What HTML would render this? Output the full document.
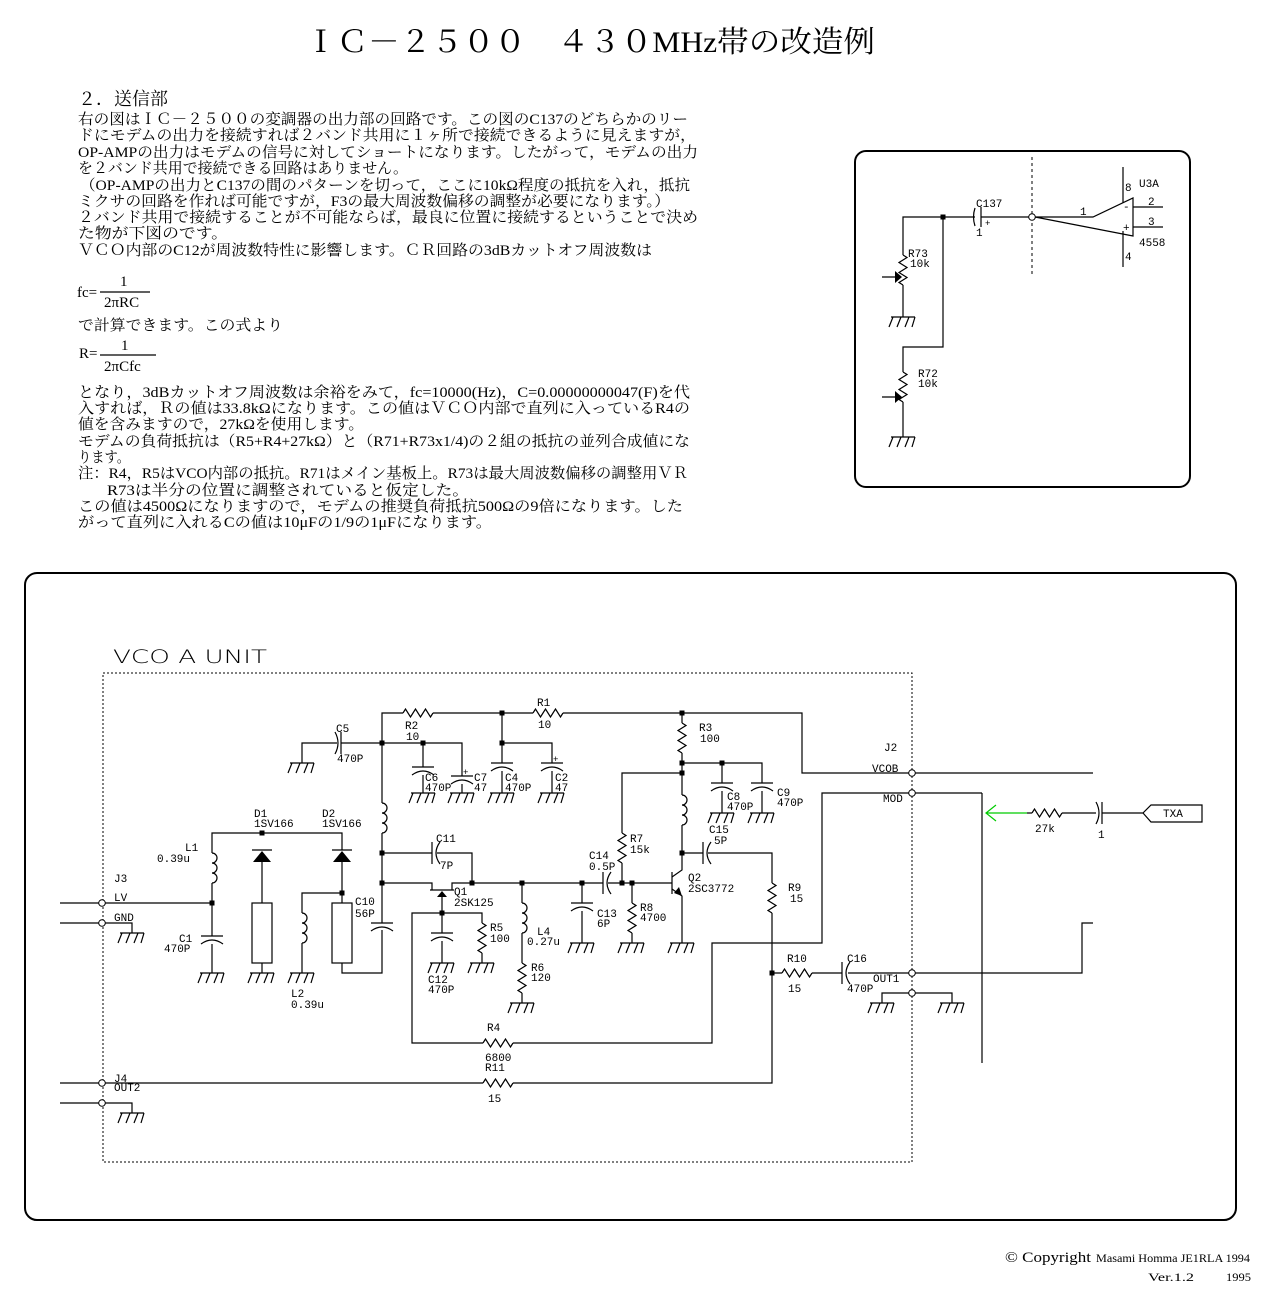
<!DOCTYPE html>
<html><head><meta charset="utf-8"><style>
html,body{margin:0;padding:0;background:#fff;width:1280px;height:1300px;overflow:hidden}
svg{display:block}
.j{font-family:"Liberation Serif","Noto Serif CJK SC","IPAGothic",serif;font-size:15px;fill:#000}
.m{font-family:"Liberation Mono","DejaVu Sans Mono",monospace;font-size:11px;fill:#000}
.w{fill:none;stroke:#000;stroke-width:1.2}
</style></head><body>
<svg width="1280" height="1300" viewBox="0 0 1280 1300" xmlns="http://www.w3.org/2000/svg">
<defs>
<g id="gnd" class="w"><path d="M-12 0H12M-10 0l-4 10M-2 0l-4 10M6 0l-4 10M12 0l-3 10"/></g>
<g id="rv" class="w"><path d="M0 0l4 2.5l-8 5l8 5l-8 5l8 5l-8 5l4 2.5"/></g>
<g id="rh" class="w"><path d="M0 0l2.5 -4l5 8l5 -8l5 8l5 -8l5 8l2.5 -4"/></g>
<g id="iv" class="w"><path d="M0 0a5 5 0 0 1 0 10a5 5 0 0 1 0 10a5 5 0 0 1 0 10"/></g>
<g id="cv" class="w"><path d="M-11 0H11M-11 8Q0 0 11 8"/></g>
<g id="ch" class="w"><path d="M0 -11V11M8 -11Q0 0 8 11"/></g>
<g id="chr" class="w"><path d="M6 -11V11M0 -11Q6 0 0 11"/></g>
</defs>

<text x="305" y="52" textLength="570" lengthAdjust="spacingAndGlyphs" style="font-family:'Liberation Serif','Noto Serif CJK SC',serif;font-size:30px">ＩＣ－２５００　４３０MHz帯の改造例</text>
<text x="78" y="105" class="j" style="font-size:18px">２．送信部</text>

<g class="j">
<text x="78" y="124" textLength="610" lengthAdjust="spacingAndGlyphs">右の図はＩＣ－２５００の変調器の出力部の回路です。この図のC137のどちらかのリー</text>
<text x="78" y="140" textLength="618" lengthAdjust="spacingAndGlyphs">ドにモデムの出力を接続すれば２バンド共用に１ヶ所で接続できるように見えますが，</text>
<text x="78" y="157" textLength="620" lengthAdjust="spacingAndGlyphs">OP-AMPの出力はモデムの信号に対してショートになります。したがって，モデムの出力</text>
<text x="78" y="173" textLength="330" lengthAdjust="spacingAndGlyphs">を２バンド共用で接続できる回路はありません。</text>
<text x="80" y="190" textLength="610" lengthAdjust="spacingAndGlyphs">（OP-AMPの出力とC137の間のパターンを切って，ここに10kΩ程度の抵抗を入れ，抵抗</text>
<text x="78" y="206" textLength="592" lengthAdjust="spacingAndGlyphs">ミクサの回路を作れば可能ですが，F3の最大周波数偏移の調整が必要になります。）</text>
<text x="78" y="222" textLength="620" lengthAdjust="spacingAndGlyphs">２バンド共用で接続することが不可能ならば，最良に位置に接続するということで決め</text>
<text x="78" y="238" textLength="150" lengthAdjust="spacingAndGlyphs">た物が下図のです。</text>
<text x="78" y="255" textLength="574" lengthAdjust="spacingAndGlyphs">ＶＣＯ内部のC12が周波数特性に影響します。ＣＲ回路の3dBカットオフ周波数は</text>
<text x="77" y="297">fc=</text><text x="120" y="286">1</text><path class="w" d="M100 292H150"/><text x="104" y="307">2πRC</text>
<text x="78" y="330" textLength="205" lengthAdjust="spacingAndGlyphs">で計算できます。この式より</text>
<text x="79" y="358">R=</text><text x="121" y="350">1</text><path class="w" d="M100 355H156"/><text x="104" y="371">2πCfc</text>
<text x="78" y="397" textLength="612" lengthAdjust="spacingAndGlyphs">となり，3dBカットオフ周波数は余裕をみて，fc=10000(Hz)，C=0.00000000047(F)を代</text>
<text x="78" y="413" textLength="612" lengthAdjust="spacingAndGlyphs">入すれば，Ｒの値は33.8kΩになります。この値はＶＣＯ内部で直列に入っているR4の</text>
<text x="78" y="429" textLength="286" lengthAdjust="spacingAndGlyphs">値を含みますので，27kΩを使用します。</text>
<text x="78" y="446" textLength="612" lengthAdjust="spacingAndGlyphs">モデムの負荷抵抗は（R5+R4+27kΩ）と（R71+R73x1/4)の２組の抵抗の並列合成値にな</text>
<text x="78" y="462" textLength="52" lengthAdjust="spacingAndGlyphs">ります。</text>
<text x="78" y="478" textLength="610" lengthAdjust="spacingAndGlyphs">注：R4，R5はVCO内部の抵抗。R71はメイン基板上。R73は最大周波数偏移の調整用ＶＲ</text>
<text x="107" y="495" textLength="362" lengthAdjust="spacingAndGlyphs">R73は半分の位置に調整されていると仮定した。</text>
<text x="78" y="511" textLength="605" lengthAdjust="spacingAndGlyphs">この値は4500Ωになりますので，モデムの推奨負荷抵抗500Ωの9倍になります。した</text>
<text x="78" y="527" textLength="414" lengthAdjust="spacingAndGlyphs">がって直列に入れるCの値は10μFの1/9の1μFになります。</text>
</g>

<rect x="855" y="151" width="335" height="336" rx="11" fill="none" stroke="#000" stroke-width="2"/>
<path d="M1032 157V277" stroke="#000" stroke-dasharray="3,3"/>
<path class="w" d="M903 255V217H975M981 217H1029M1035 217H1093L1133 198V236Z"/>
<path class="w" d="M975 208Q972 217 975 226M981 207V227"/>
<circle cx="1032" cy="217" r="3.3" fill="#fff" stroke="#000"/>
<rect x="940.5" y="214.5" width="5" height="5"/>
<path class="w" d="M1123 167V203M1123 231V267M1133 207H1163M1133 227H1163"/>
<use href="#rv" x="903" y="255"/>
<path class="w" d="M903 285V317M882 277H895"/><path d="M895 271L902 277L895 283Z"/>
<use href="#gnd" x="903" y="317"/>
<path class="w" d="M943 217V347H903V372"/>
<use href="#rv" x="903" y="372"/>
<path class="w" d="M903 402V437M882 397H895"/><path d="M895 391L902 397L895 403Z"/>
<use href="#gnd" x="903" y="437"/>
<g class="m">
<text x="976" y="207">C137</text><text x="985" y="226" style="font-size:9px">+</text><text x="976" y="236">1</text>
<text x="1080" y="215">1</text><text x="1125" y="191">8</text><text x="1139" y="187">U3A</text>
<text x="1148" y="205">2</text><text x="1148" y="225">3</text><text x="1139" y="246">4558</text><text x="1125" y="260">4</text>
<text x="1123" y="210">-</text><text x="1123" y="231">+</text>
<text x="908" y="257">R73</text><text x="910" y="267">10k</text>
<text x="918" y="377">R72</text><text x="918" y="387">10k</text>
</g>

<rect x="25" y="573" width="1211" height="647" rx="12" fill="none" stroke="#000" stroke-width="2"/>
<text x="113" y="663" textLength="154" lengthAdjust="spacingAndGlyphs" style="font-family:'DejaVu Sans',sans-serif;font-size:19px;font-weight:200">VCO A UNIT</text>
<rect x="103" y="673" width="809" height="489" fill="none" stroke="#000" stroke-dasharray="2,2"/>

<g class="w">
<path d="M382 883V833M382 803V713H403M433 713H533M563 713H802V773H909M915 773H1093"/>
<path d="M302 763V743H337M341 743H462V776M423 743V767M423 775V793M462 784V793"/>
<path d="M502 713V763M502 771V793M502 743H552V763M552 771V793"/>
<path d="M682 713V723M682 753V795M682 825V870L672 877M672 889L682 896V943M682 763H762V783M722 763V783M722 791V813M762 791V813"/>
<path d="M682 773H622V833M622 863V883"/>
<path d="M382 883H432V890M452 890V883H603M608 883H672M430 890H454M442 897V913M672 872V894"/>
<path d="M382 853H432M437 853H472V883"/>
<path d="M522 883V903M522 933V963M522 993V1003M582 883V903M582 911V943M632 883V903M632 933V943"/>
<path d="M682 853H703M708 853H772V883M772 913V1083H513M483 1083H105M99 1083H60"/>
<path d="M772 973H782M812 973H842M848 973H909M915 973H1082V923H1093"/>
<path d="M442 913H482V923M482 953V963M442 913V933M442 941V963M442 913H412V1043H483M513 1043H712V943H822V793H909M915 793H982M982 793V1063"/>
<path d="M882 1003V993H909M915 993H952V1003"/>
<path d="M1027 813H1032M1062 813H1096M1102 813H1143M1143 813L1151 805H1202V822H1151Z"/>
<path d="M60 903H99M105 903H212V883M212 853V833H342V850M262 862V903M262 963V973M342 862V903M342 963V973H382V930M382 883V923"/>
<path d="M342 893H302V913M302 943V973M212 903V936M212 944V973"/>
<path d="M60 923H99M105 923H132V933M60 1103H99M105 1103H132V1113"/>
<path d="M252 850H272M332 850H352"/>
</g>
<path d="M1027 813H986M996 805L986 813L996 821" fill="none" stroke="#0c0" stroke-width="1.2"/>
<path d="M262 851L253 862H271Z"/><path d="M342 851L333 862H351Z"/>
<path d="M442 891L437 897H447Z"/><path d="M682 896L674 893L679 887Z"/>
<rect x="252" y="903" width="20" height="60" fill="none" stroke="#000" stroke-width="1.2"/>
<rect x="332" y="903" width="20" height="60" fill="none" stroke="#000" stroke-width="1.2"/>
<g fill="#fff" stroke="#000"><circle cx="912" cy="773" r="3.3"/><circle cx="912" cy="793" r="3.3"/><circle cx="912" cy="973" r="3.3"/><circle cx="912" cy="993" r="3.3"/>
<circle cx="102" cy="903" r="3.3"/><circle cx="102" cy="923" r="3.3"/><circle cx="102" cy="1083" r="3.3"/><circle cx="102" cy="1103" r="3.3"/></g>

<use href="#rh" x="403" y="713"/><use href="#rh" x="533" y="713"/>
<use href="#rh" x="483" y="1043"/><use href="#rh" x="483" y="1083"/>
<use href="#rh" x="782" y="973"/><use href="#rh" x="1032" y="813"/>
<use href="#rv" x="682" y="723"/><use href="#rv" x="622" y="833"/><use href="#rv" x="522" y="963"/>
<use href="#rv" x="632" y="903"/><use href="#rv" x="772" y="883"/><use href="#rv" x="482" y="923"/>
<use href="#iv" x="382" y="803"/><use href="#iv" x="682" y="795"/><use href="#iv" x="522" y="903"/>
<use href="#iv" x="212" y="853"/><use href="#iv" x="302" y="913"/>
<use href="#cv" x="423" y="767"/><use href="#cv" x="462" y="776"/><use href="#cv" x="502" y="763"/><use href="#cv" x="552" y="763"/>
<use href="#cv" x="722" y="783"/><use href="#cv" x="762" y="783"/><use href="#cv" x="582" y="903"/><use href="#cv" x="442" y="933"/>
<use href="#cv" x="212" y="936"/><use href="#cv" x="382" y="923"/>
<use href="#chr" x="335" y="743"/><use href="#ch" x="432" y="853"/><use href="#ch" x="603" y="883"/><use href="#ch" x="703" y="853"/>
<use href="#ch" x="842" y="973"/><use href="#chr" x="1096" y="813"/>
<g>
<use href="#gnd" x="302" y="763"/><use href="#gnd" x="423" y="793"/><use href="#gnd" x="462" y="793"/><use href="#gnd" x="502" y="793"/><use href="#gnd" x="552" y="793"/>
<use href="#gnd" x="722" y="813"/><use href="#gnd" x="762" y="813"/><use href="#gnd" x="682" y="943"/><use href="#gnd" x="632" y="943"/><use href="#gnd" x="582" y="943"/>
<use href="#gnd" x="522" y="1003"/><use href="#gnd" x="482" y="963"/><use href="#gnd" x="442" y="963"/><use href="#gnd" x="212" y="973"/><use href="#gnd" x="262" y="973"/>
<use href="#gnd" x="302" y="973"/><use href="#gnd" x="132" y="933"/><use href="#gnd" x="132" y="1113"/><use href="#gnd" x="882" y="1003"/><use href="#gnd" x="952" y="1003"/>
</g>
<g>
<rect x="379.5" y="740.5" width="5" height="5"/><rect x="420.5" y="740.5" width="5" height="5"/><rect x="499.5" y="710.5" width="5" height="5"/><rect x="499.5" y="740.5" width="5" height="5"/>
<rect x="679.5" y="710.5" width="5" height="5"/><rect x="679.5" y="760.5" width="5" height="5"/><rect x="679.5" y="770.5" width="5" height="5"/><rect x="719.5" y="760.5" width="5" height="5"/>
<rect x="379.5" y="850.5" width="5" height="5"/><rect x="379.5" y="880.5" width="5" height="5"/><rect x="469.5" y="880.5" width="5" height="5"/><rect x="519.5" y="880.5" width="5" height="5"/>
<rect x="579.5" y="880.5" width="5" height="5"/><rect x="619.5" y="880.5" width="5" height="5"/><rect x="629.5" y="880.5" width="5" height="5"/><rect x="679.5" y="850.5" width="5" height="5"/>
<rect x="439.5" y="910.5" width="5" height="5"/><rect x="209.5" y="900.5" width="5" height="5"/><rect x="259.5" y="830.5" width="5" height="5"/><rect x="339.5" y="890.5" width="5" height="5"/>
<rect x="769.5" y="970.5" width="5" height="5"/>
</g>

<g class="m">
<text x="336" y="732">C5</text><text x="337" y="762">470P</text>
<text x="405" y="729">R2</text><text x="406" y="740">10</text>
<text x="537" y="706">R1</text><text x="538" y="728">10</text>
<text x="425" y="781">C6</text><text x="425" y="791">470P</text>
<text x="474" y="781">C7</text><text x="474" y="791">47</text>
<text x="505" y="781">C4</text><text x="505" y="791">470P</text>
<text x="555" y="781">C2</text><text x="555" y="791">47</text><text x="553" y="762" style="font-size:9px">+</text><text x="463" y="775" style="font-size:9px">+</text>
<text x="699" y="731">R3</text><text x="700" y="742">100</text>
<text x="727" y="800">C8</text><text x="727" y="810">470P</text>
<text x="777" y="796">C9</text><text x="777" y="806">470P</text>
<text x="709" y="833">C15</text><text x="714" y="844">5P</text>
<text x="630" y="842">R7</text><text x="630" y="853">15k</text>
<text x="589" y="859">C14</text><text x="589" y="870">0.5P</text>
<text x="688" y="881">Q2</text><text x="688" y="892">2SC3772</text>
<text x="597" y="917">C13</text><text x="597" y="927">6P</text>
<text x="640" y="911">R8</text><text x="640" y="921">4700</text>
<text x="788" y="891">R9</text><text x="790" y="902">15</text>
<text x="436" y="842">C11</text><text x="440" y="869">7P</text>
<text x="454" y="895">Q1</text><text x="454" y="906">2SK125</text>
<text x="490" y="931">R5</text><text x="490" y="942">100</text>
<text x="537" y="935">L4</text><text x="527" y="945">0.27u</text>
<text x="531" y="971">R6</text><text x="531" y="981">120</text>
<text x="428" y="983">C12</text><text x="428" y="993">470P</text>
<text x="487" y="1031">R4</text><text x="485" y="1061">6800</text><text x="485" y="1071">R11</text><text x="488" y="1102">15</text>
<text x="787" y="962">R10</text><text x="788" y="992">15</text>
<text x="847" y="962">C16</text><text x="847" y="992">470P</text><text x="873" y="982">OUT1</text>
<text x="884" y="751">J2</text><text x="872" y="772">VCOB</text><text x="883" y="802">MOD</text>
<text x="1035" y="832">27k</text><text x="1098" y="838">1</text><text x="1163" y="817">TXA</text>
<text x="254" y="817">D1</text><text x="254" y="827">1SV166</text>
<text x="322" y="817">D2</text><text x="322" y="827">1SV166</text>
<text x="185" y="851">L1</text><text x="157" y="862">0.39u</text>
<text x="114" y="882">J3</text><text x="114" y="901">LV</text><text x="114" y="921">GND</text>
<text x="179" y="942">C1</text><text x="164" y="952">470P</text>
<text x="355" y="905">C10</text><text x="355" y="917">56P</text>
<text x="291" y="997">L2</text><text x="291" y="1008">0.39u</text>
<text x="114" y="1082">J4</text><text x="114" y="1091">OUT2</text>
</g>

<text x="1005" y="1262" textLength="86" lengthAdjust="spacingAndGlyphs" style="font-family:'Liberation Serif',serif;font-size:15px">© Copyright</text>
<text x="1096" y="1262" textLength="154" lengthAdjust="spacingAndGlyphs" style="font-family:'Liberation Serif',serif;font-size:12px">Masami Homma JE1RLA  1994</text>
<text x="1148" y="1281" textLength="46" lengthAdjust="spacingAndGlyphs" style="font-family:'Liberation Serif',serif;font-size:12px">Ver.1.2</text>
<text x="1226" y="1281" textLength="25" lengthAdjust="spacingAndGlyphs" style="font-family:'Liberation Serif',serif;font-size:12px">1995</text>
</svg>
</body></html>
